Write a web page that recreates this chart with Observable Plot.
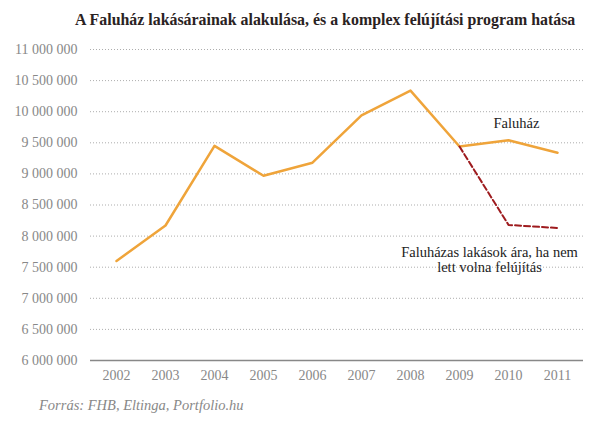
<!DOCTYPE html>
<html><head><meta charset="utf-8">
<script src="https://cdn.jsdelivr.net/npm/d3@7"></script>
<script src="https://cdn.jsdelivr.net/npm/@observablehq/plot@0.6"></script>
<style>
body{margin:0;background:#fff;width:598px;height:429px;overflow:hidden;}
#title{height:36px;font-family:"Liberation Serif",serif;font-weight:bold;font-size:15.9px;color:#2a2222;padding-left:75px;line-height:40px;white-space:nowrap;}
#caption{font-family:"Liberation Serif",serif;font-style:italic;font-size:14.5px;color:#888;padding-left:39px;margin-top:1px;}
</style></head><body>
<div id="title">A Faluház lakásárainak alakulása, és a komplex felújítási program hatása</div>
<div id="chart"></div>
<div id="caption">Forrás: FHB, Eltinga, Portfolio.hu</div>
<script>
const years = ["2002","2003","2004","2005","2006","2007","2008","2009","2010","2011"];
const faluhaz = [7600000, 8170000, 9450000, 8970000, 9180000, 9940000, 10340000, 9440000, 9540000, 9340000];
const noRenovYears = ["2009","2010","2011"];
const noRenov = [9440000, 8180000, 8130000];
const yTicks = [6000000,6500000,7000000,7500000,8000000,8500000,9000000,9500000,10000000,10500000,11000000];
const labelTexts = ["Faluház", "Faluházas lakások ára, ha nem\nlett volna felújítás"];
const labelYears = ["2010", "2010"];
const labelValues = [9810000, 7620000];

const series1 = years.map((y,i)=>({year:y, value:faluhaz[i]}));
const series2 = noRenovYears.map((y,i)=>({year:y, value:noRenov[i]}));
const labels = labelTexts.map((t,i)=>({text:t, year:labelYears[i], value:labelValues[i]}));
const fmt = v => d3.format(",")(v).replace(/,/g, " ");

const chart = Plot.plot({
  width: 598, height: 360,
  marginTop: 13, marginBottom: 36, marginLeft: 90, marginRight: 15,
  style: {fontFamily: "Liberation Serif, serif", fontSize: "14px", color: "#888", background: "#fff"},
  x: {type: "point", domain: years, padding: 0.5, label: null, tickSize: 0, tickPadding: 10},
  y: {domain: [6000000, 11000000], ticks: yTicks, tickFormat: fmt, label: null, tickSize: 0, tickPadding: 13},
  marks: [
    Plot.gridY(yTicks.slice(1), {stroke: "#999", strokeOpacity: 0.8, strokeDasharray: "1,2", strokeWidth: 1}),
    Plot.ruleY([6000000], {stroke: "#888", strokeWidth: 1.5}),
    Plot.line(series1, {x: "year", y: "value", stroke: "#EFA43A", strokeWidth: 2.5}),
    Plot.line(series2, {x: "year", y: "value", stroke: "#9E1B1E", strokeWidth: 2, strokeDasharray: "6,3"}),
    Plot.text(labels, {x: "year", y: "value", text: "text", dx: -19, fill: "#222", fontSize: 14.5, lineHeight: 1.0, textAnchor: "middle"}),
  ]
});
document.getElementById("chart").appendChild(chart);
const texts = chart.querySelectorAll("g[aria-label=text] text");
if (texts[0]) texts[0].setAttribute("transform", (texts[0].getAttribute("transform")||"") + " translate(27,0)");
</script>
</body></html>
